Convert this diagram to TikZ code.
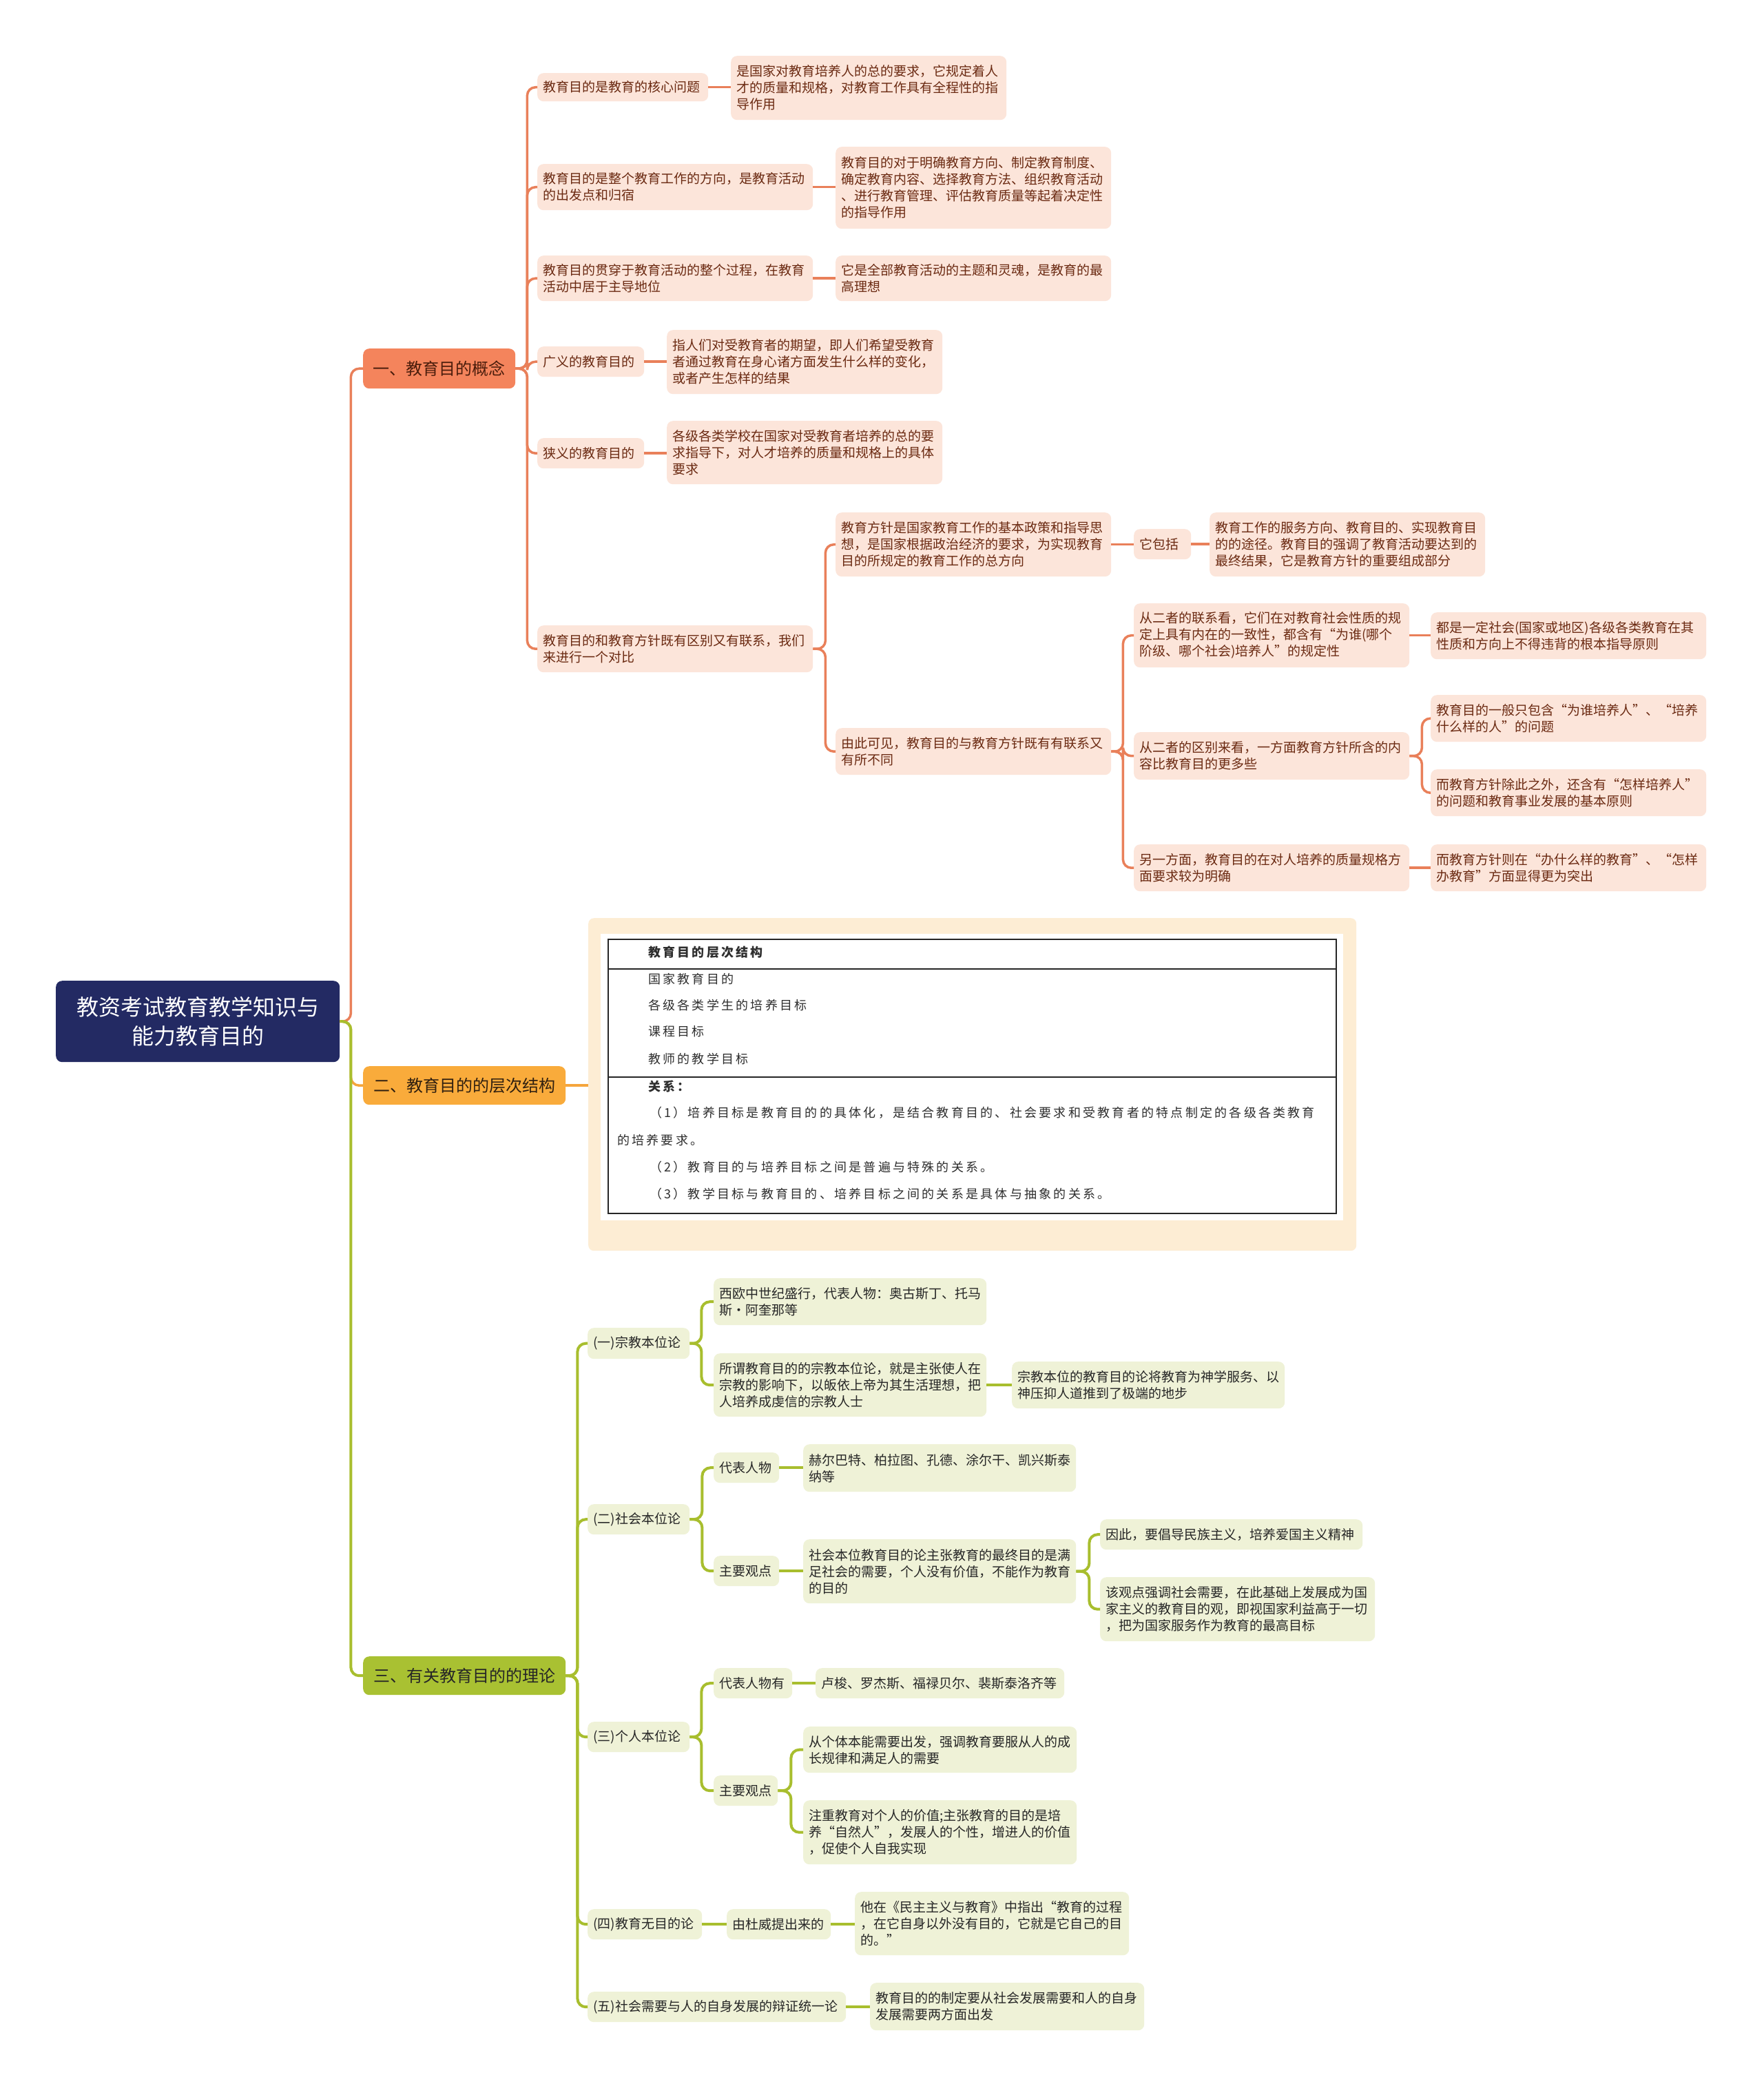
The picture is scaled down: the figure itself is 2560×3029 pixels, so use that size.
\documentclass[tikz,border=0pt]{standalone}
\usepackage{fontspec}
\newfontfamily\cjk{Noto Sans CJK SC}
\newfontfamily\cjktab[LetterSpace=18]{Noto Sans CJK SC}
\definecolor{rootc}{HTML}{232A63}
\definecolor{oA}{HTML}{F4845C}
\definecolor{oL}{HTML}{E9805A}
\definecolor{pk}{HTML}{FCE5DA}
\definecolor{brn}{HTML}{6B2A12}
\definecolor{yA}{HTML}{F9AB3B}
\definecolor{yL}{HTML}{F5A53C}
\definecolor{gA}{HTML}{A9C132}
\definecolor{gL}{HTML}{A8BE2E}
\definecolor{gn}{HTML}{EFF2D7}
\definecolor{cream}{HTML}{FDEDD4}
\definecolor{tabtxt}{HTML}{2E2E2E}
\tikzset{
  base/.style={rounded corners=9pt, inner xsep=8pt, inner ysep=2pt, align=left},
  pnode/.style={base, fill=pk, text=brn, font=\cjk\fontsize{19}{24}\selectfont},
  gnode/.style={base, fill=gn, text=black!85, font=\cjk\fontsize{19}{24}\selectfont},
  rootn/.style={base, fill=rootc, text=white, align=center, font=\cjk\fontsize{32}{42}\selectfont},
  lone/.style={base, fill=oA, text=brn!70!black, align=center, font=\cjk\fontsize{24}{28}\selectfont},
  ltwo/.style={base, fill=yA, text=black!75!brown, align=center, font=\cjk\fontsize{24}{28}\selectfont},
  lthree/.style={base, fill=gA, text=black!85, align=center, font=\cjk\fontsize{24}{28}\selectfont},
  oline/.style={draw=oL, line width=3.5pt, rounded corners=12pt},
  yline/.style={draw=yL, line width=3.5pt, rounded corners=12pt},
  gline/.style={draw=gL, line width=4pt, rounded corners=12pt},
  ttext/.style={anchor=west, inner sep=0pt, text=tabtxt, font=\cjktab\fontsize{18}{20}\selectfont},
}
\newcommand\bx[7]{%
  \pgfmathsetmacro\bxw{#5-#3-16}%
  \pgfmathsetmacro\bxh{#6-#4}%
  \node[#2,anchor=north west,text width=\bxw pt,minimum height=\bxh pt] (#1) at (#3,#4) {#7};}
\newcommand\ed[4]{\draw[#1] (#2.east) -- ++(#3,0) |- (#4.west);}
\newcommand\edh[3]{\draw[#1] (#2.east) -- (#3.west |- #2.east);}
\begin{document}
\begin{tikzpicture}[x=1pt,y=-1pt]
\useasboundingbox (0,0) rectangle (2560,3029);
\fill[white] (0,0) rectangle (2560,3029);

% root and level 1
\bx{root}{rootn}{81}{1424}{493}{1542}{教资考试教育教学知识与\\能力教育目的}
\bx{n1}{lone}{527}{506}{748}{564}{一、教育目的概念}
\bx{n2}{ltwo}{527}{1548}{821}{1604}{二、教育目的的层次结构}
\bx{n3}{lthree}{527}{2405}{821}{2461}{三、有关教育目的的理论}

% branch one
\bx{a1}{pnode}{780}{106}{1028}{147}{教育目的是教育的核心问题}
\bx{a1c}{pnode}{1061}{81}{1461}{174}{是国家对教育培养人的总的要求，它规定着人\\才的质量和规格，对教育工作具有全程性的指\\导作用}
\bx{a2}{pnode}{780}{238}{1180}{305}{教育目的是整个教育工作的方向，是教育活动\\的出发点和归宿}
\bx{a2c}{pnode}{1213}{213}{1613}{332}{教育目的对于明确教育方向、制定教育制度、\\确定教育内容、选择教育方法、组织教育活动\\、进行教育管理、评估教育质量等起着决定性\\的指导作用}
\bx{a3}{pnode}{780}{371}{1180}{437}{教育目的贯穿于教育活动的整个过程，在教育\\活动中居于主导地位}
\bx{a3c}{pnode}{1213}{371}{1613}{437}{它是全部教育活动的主题和灵魂，是教育的最\\高理想}
\bx{a4}{pnode}{780}{503}{935}{547}{广义的教育目的}
\bx{a4c}{pnode}{968}{479}{1368}{572}{指人们对受教育者的期望，即人们希望受教育\\者通过教育在身心诸方面发生什么样的变化，\\或者产生怎样的结果}
\bx{a5}{pnode}{780}{636}{935}{680}{狭义的教育目的}
\bx{a5c}{pnode}{968}{611}{1368}{703}{各级各类学校在国家对受教育者培养的总的要\\求指导下，对人才培养的质量和规格上的具体\\要求}
\bx{a6}{pnode}{780}{908}{1180}{976}{教育目的和教育方针既有区别又有联系，我们\\来进行一个对比}
\bx{b1}{pnode}{1213}{744}{1613}{837}{教育方针是国家教育工作的基本政策和指导思\\想，是国家根据政治经济的要求，为实现教育\\目的所规定的教育工作的总方向}
\bx{b1c}{pnode}{1646}{768}{1729}{812}{它包括}
\bx{b1cc}{pnode}{1756}{744}{2156}{837}{教育工作的服务方向、教育目的、实现教育目\\的的途径。教育目的强调了教育活动要达到的\\最终结果，它是教育方针的重要组成部分}
\bx{b2}{pnode}{1213}{1057}{1613}{1125}{由此可见，教育目的与教育方针既有有联系又\\有所不同}
\bx{c1}{pnode}{1646}{876}{2046}{969}{从二者的联系看，它们在对教育社会性质的规\\定上具有内在的一致性，都含有“为谁(哪个\\阶级、哪个社会)培养人”的规定性}
\bx{c1c}{pnode}{2077}{889}{2477}{957}{都是一定社会(国家或地区)各级各类教育在其\\性质和方向上不得违背的根本指导原则}
\bx{c2}{pnode}{1646}{1063}{2046}{1132}{从二者的区别来看，一方面教育方针所含的内\\容比教育目的更多些}
\bx{c2a}{pnode}{2077}{1009}{2477}{1077}{教育目的一般只包含“为谁培养人”、“培养\\什么样的人”的问题}
\bx{c2b}{pnode}{2077}{1117}{2477}{1185}{而教育方针除此之外，还含有“怎样培养人”\\的问题和教育事业发展的基本原则}
\bx{c3}{pnode}{1646}{1226}{2046}{1294}{另一方面，教育目的在对人培养的质量规格方\\面要求较为明确}
\bx{c3c}{pnode}{2077}{1226}{2477}{1294}{而教育方针则在“办什么样的教育”、“怎样\\办教育”方面显得更为突出}

% branch two: table
\node[fill=cream, rounded corners=8pt, minimum width=1115pt, minimum height=483pt, anchor=north west, inner sep=0pt] (tbl) at (854,1333) {};
\node[fill=white, minimum width=1078pt, minimum height=416pt, anchor=north west, inner sep=0pt] (timg) at (872,1356) {};
\draw[line width=2pt, black!85] (883,1364) rectangle (1940,1762);
\draw[line width=2pt, black!85] (883,1407) -- (1940,1407);
\draw[line width=2pt, black!85] (883,1564) -- (1940,1564);
\node[ttext] (t0) at (941,1383) {\bfseries 教育目的层次结构};
\node[ttext] (t1) at (941,1422) {国家教育目的};
\node[ttext] (t2) at (941,1460) {各级各类学生的培养目标};
\node[ttext] (t3) at (941,1498) {课程目标};
\node[ttext] (t4) at (941,1538) {教师的教学目标};
\node[ttext] (t5) at (941,1578) {\bfseries 关系：};
\node[ttext] (t6) at (943,1616) {（1）培养目标是教育目的的具体化，是结合教育目的、社会要求和受教育者的特点制定的各级各类教育};
\node[ttext] (t7) at (896,1656) {的培养要求。};
\node[ttext] (t8) at (943,1695) {（2）教育目的与培养目标之间是普遍与特殊的关系。};
\node[ttext] (t9) at (943,1734) {（3）教学目标与教育目的、培养目标之间的关系是具体与抽象的关系。};

% branch three
\bx{d1}{gnode}{853}{1928}{1001}{1973}{(一)宗教本位论}
\bx{d1a}{gnode}{1036}{1856}{1432}{1924}{西欧中世纪盛行，代表人物：奥古斯丁、托马\\斯·阿奎那等}
\bx{d1b}{gnode}{1036}{1965}{1432}{2057}{所谓教育目的的宗教本位论，就是主张使人在\\宗教的影响下，以皈依上帝为其生活理想，把\\人培养成虔信的宗教人士}
\bx{d1bc}{gnode}{1469}{1977}{1865}{2045}{宗教本位的教育目的论将教育为神学服务、以\\神压抑人道推到了极端的地步}
\bx{d2}{gnode}{853}{2184}{1001}{2228}{(二)社会本位论}
\bx{d2a}{gnode}{1036}{2109}{1131}{2153}{代表人物}
\bx{d2ac}{gnode}{1166}{2097}{1562}{2166}{赫尔巴特、柏拉图、孔德、涂尔干、凯兴斯泰\\纳等}
\bx{d2b}{gnode}{1036}{2259}{1131}{2303}{主要观点}
\bx{d2bc}{gnode}{1166}{2235}{1562}{2328}{社会本位教育目的论主张教育的最终目的是满\\足社会的需要，个人没有价值，不能作为教育\\的目的}
\bx{d2bc1}{gnode}{1597}{2206}{1978}{2250}{因此，要倡导民族主义，培养爱国主义精神}
\bx{d2bc2}{gnode}{1597}{2290}{1996}{2383}{该观点强调社会需要，在此基础上发展成为国\\家主义的教育目的观，即视国家利益高于一切\\，把为国家服务作为教育的最高目标}
\bx{d3}{gnode}{853}{2500}{1001}{2544}{(三)个人本位论}
\bx{d3a}{gnode}{1036}{2422}{1150}{2466}{代表人物有}
\bx{d3ac}{gnode}{1184}{2422}{1545}{2466}{卢梭、罗杰斯、福禄贝尔、裴斯泰洛齐等}
\bx{d3b}{gnode}{1036}{2578}{1129}{2622}{主要观点}
\bx{d3b1}{gnode}{1166}{2507}{1563}{2574}{从个体本能需要出发，强调教育要服从人的成\\长规律和满足人的需要}
\bx{d3b2}{gnode}{1166}{2614}{1563}{2707}{注重教育对个人的价值;主张教育的目的是培\\养“自然人”，发展人的个性，增进人的价值\\，促使个人自我实现}
\bx{d4}{gnode}{853}{2772}{1019}{2816}{(四)教育无目的论}
\bx{d4a}{gnode}{1055}{2772}{1206}{2816}{由杜威提出来的}
\bx{d4ac}{gnode}{1241}{2747}{1639}{2839}{他在《民主主义与教育》中指出“教育的过程\\，在它自身以外没有目的，它就是它自己的目\\的。”}
\bx{d5}{gnode}{853}{2892}{1228}{2936}{(五)社会需要与人的自身发展的辩证统一论}
\bx{d5c}{gnode}{1263}{2879}{1661}{2948}{教育目的的制定要从社会发展需要和人的自身\\发展需要两方面出发}

% connectors: root
\ed{oline}{root}{16}{n1}
\ed{yline}{root}{16}{n2}
\ed{gline}{root}{16}{n3}
% branch one
\foreach \c in {a1,a2,a3,a4,a5,a6} {\ed{oline}{n1}{17}{\c}}
\edh{oline}{a1}{a1c}
\edh{oline}{a2}{a2c}
\edh{oline}{a3}{a3c}
\edh{oline}{a4}{a4c}
\edh{oline}{a5}{a5c}
\ed{oline}{a6}{18}{b1}
\ed{oline}{a6}{18}{b2}
\edh{oline}{b1}{b1c}
\edh{oline}{b1c}{b1cc}
\foreach \c in {c1,c2,c3} {\ed{oline}{b2}{17}{\c}}
\edh{oline}{c1}{c1c}
\ed{oline}{c2}{18}{c2a}
\ed{oline}{c2}{18}{c2b}
\edh{oline}{c3}{c3c}
% branch two
\edh{yline}{n2}{tbl}
% branch three
\foreach \c in {d1,d2,d3,d4,d5} {\ed{gline}{n3}{17}{\c}}
\ed{gline}{d1}{17}{d1a}
\ed{gline}{d1}{17}{d1b}
\edh{gline}{d1b}{d1bc}
\ed{gline}{d2}{18}{d2a}
\ed{gline}{d2}{18}{d2b}
\edh{gline}{d2a}{d2ac}
\edh{gline}{d2b}{d2bc}
\ed{gline}{d2bc}{19}{d2bc1}
\ed{gline}{d2bc}{19}{d2bc2}
\ed{gline}{d3}{17}{d3a}
\ed{gline}{d3}{17}{d3b}
\edh{gline}{d3a}{d3ac}
\ed{gline}{d3b}{19}{d3b1}
\ed{gline}{d3b}{19}{d3b2}
\edh{gline}{d4}{d4a}
\edh{gline}{d4a}{d4ac}
\edh{gline}{d5}{d5c}
\end{tikzpicture}
\end{document}
